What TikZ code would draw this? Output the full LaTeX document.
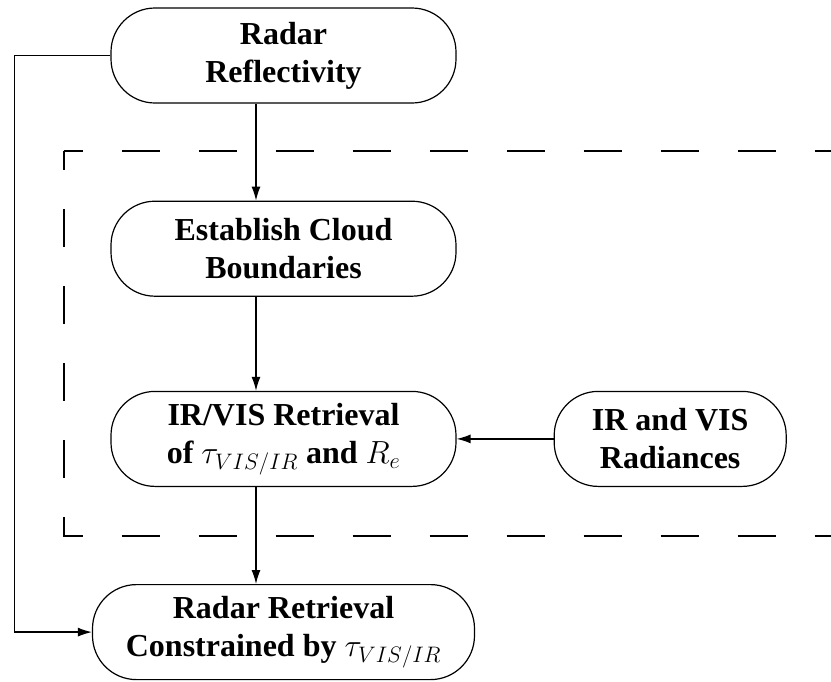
\RequirePackage{fix-cm}
\documentclass[tikz,border=0pt]{standalone}
\usepackage{fontspec}
\setmainfont{Liberation Serif}
\usetikzlibrary{arrows.meta, positioning}

\begin{document}
\begin{tikzpicture}[x=1pt, y=-1pt,
		font=\bfseries\fontsize{32}{38}\selectfont,
		proc/.style={draw, line width=1.2pt, rounded corners=44pt,
		             minimum width=345pt, minimum height=95pt, align=center},
		flow/.style={line width=1.3pt, -{Latex[length=14pt, width=9pt]}},
		fence/.style={line width=1.8pt, dash pattern=on 38pt off 39pt, dash phase=19pt}]
		\useasboundingbox (0,0) rectangle (831,681);
		\node[proc] (rr) at (283.5,55.5) {Radar\\Reflectivity};
		\node[proc, below=97pt of rr] (ecb) {Establish Cloud\\Boundaries};
		\node[proc, below=94pt of ecb] (ivr) {IR/VIS Retrieval\\of $\tau_{VIS/IR}$ and $R_e$};
		\node[proc, minimum width=232pt, right=97pt of ivr] (rad) {IR and VIS\\Radiances};
		\node[proc, minimum width=382pt, below=97pt of ivr] (rrt) {Radar Retrieval\\Constrained by $\tau_{VIS/IR}$};
		% dashed frame round the IR/VIS part
		\coordinate (fnw) at (63.6,151);
		\coordinate (fsw) at (63.6,536);
		\draw[fence] (fnw) -- (836,151);
		\draw[fence] (fnw) -- (fsw) -- (836,536);
		% connectors
		\coordinate (col) at (256,0);
		\draw[flow] (rr.south -| col) -- (ecb.north -| col);
		\draw[flow] (ecb.south -| col) -- (ivr.north -| col);
		\draw[flow] (ivr.south -| col) -- (rrt.north -| col);
		\draw[flow] (rad.west) -- (ivr.east);
		\draw[flow] (rr.west) -- ++(-96pt,0) |- (rrt.west);
	\end{tikzpicture}
\end{document}
